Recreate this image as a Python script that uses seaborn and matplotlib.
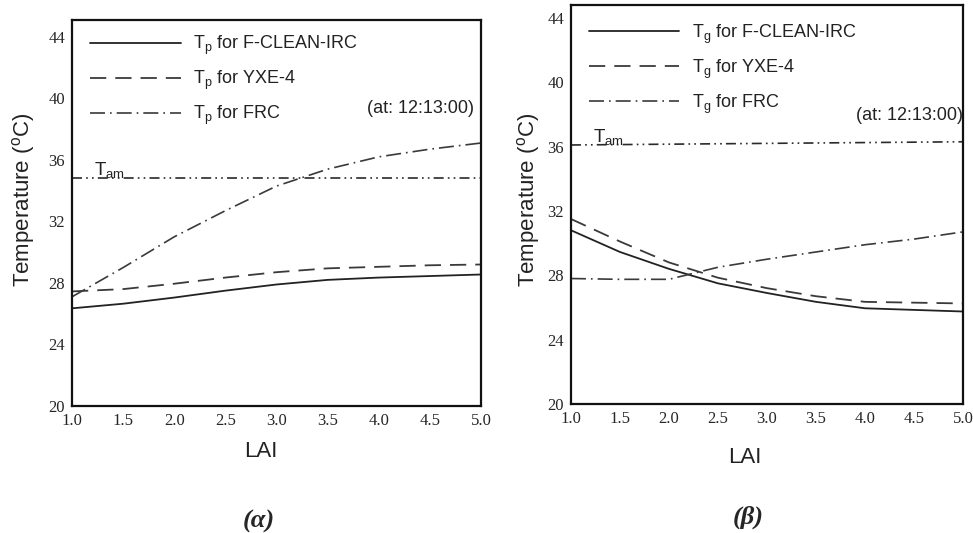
import seaborn as sns
import matplotlib.pyplot as plt

sns.set_style('white')
plt.rcParams['font.family'] = ['Liberation Sans', 'DejaVu Sans']
plt.rcParams['mathtext.default'] = 'regular'

lai = [1.0, 1.5, 2.0, 2.5, 3.0, 3.5, 4.0, 4.5, 5.0]

# (a) plant temperature Tp
tp_fclean = [26.35, 26.65, 27.05, 27.5, 27.9, 28.2, 28.35, 28.45, 28.55]
tp_yxe4 = [27.45, 27.6, 27.95, 28.35, 28.7, 28.95, 29.05, 29.15, 29.2]
tp_frc = [27.1, 29.0, 31.0, 32.7, 34.3, 35.4, 36.2, 36.7, 37.1]
tam_a = [34.8, 34.8]

# (b) ground temperature Tg
tg_fclean = [30.8, 29.45, 28.4, 27.5, 26.9, 26.35, 25.95, 25.85, 25.75]
tg_yxe4 = [31.5, 30.1, 28.8, 27.85, 27.2, 26.7, 26.35, 26.3, 26.25]
tg_frc = [27.8, 27.75, 27.75, 28.5, 29.0, 29.45, 29.9, 30.25, 30.7]
tam_b = [36.1, 36.3]

tam_x = [1.0, 5.0]
names = ['F-CLEAN-IRC', 'YXE-4', 'FRC']
xticks = [1.0, 1.5, 2.0, 2.5, 3.0, 3.5, 4.0, 4.5, 5.0]
yticks = [20, 24, 28, 32, 36, 40, 44]

dash = (9, 5)
dashdot = (9, 3, 1, 3)
dashdotdot = (6, 2.5, 1, 2.5, 1, 2.5)

fig = plt.figure(figsize=(9.73, 5.33), dpi=100)
ax1 = fig.add_axes([0.074, 0.2383, 0.4203, 0.7242])
ax2 = fig.add_axes([0.5868, 0.242, 0.4029, 0.7486])


def panel(ax, sym, solid, dashed, dd, tam, ytop, tam_y, leg_top):
    sns.lineplot(x=lai, y=solid, ax=ax, color='#222222', lw=1.3)
    sns.lineplot(x=lai, y=dashed, ax=ax, color='#3a3a3a', lw=1.3)
    sns.lineplot(x=lai, y=dd, ax=ax, color='#3a3a3a', lw=1.2)
    sns.lineplot(x=tam_x, y=tam, ax=ax, color='#2a2a2a', lw=1.2)
    lines = ax.get_lines()
    lines[1].set_dashes(dash)
    lines[2].set_dashes(dashdot)
    lines[3].set_dashes(dashdotdot)
    labels = ['T$_%s$ for %s' % (sym, n) for n in names]
    ax.legend(lines[:3], labels, loc='upper left', bbox_to_anchor=(0.045, leg_top),
              frameon=False, fontsize=13, handlelength=5.0, handletextpad=0.7,
              labelspacing=0.65, borderpad=0, borderaxespad=0, labelcolor='#222222')
    ax.text(1.22, tam_y, 'T$_{am}$', fontsize=13.5, color='#222222', va='baseline')
    ax.set_xlim(1.0, 5.0)
    ax.set_ylim(20, ytop)
    ax.set_xticks(xticks)
    ax.set_xticklabels(['%.1f' % v for v in xticks], family='Liberation Serif', fontsize=12)
    ax.set_yticks(yticks)
    ax.set_yticklabels([str(v) for v in yticks], family='Liberation Serif', fontsize=12)
    ax.tick_params(direction='in', length=3, width=1, color='#333333', pad=5)
    ax.set_xlabel('LAI', fontsize=16, color='#222222')
    ax.set_ylabel('Temperature ($^{o}$C)', fontsize=16, color='#222222')
    for s in ax.spines.values():
        s.set_color('#111111')
        s.set_linewidth(1.6)


panel(ax1, 'p', tp_fclean, tp_yxe4, tp_frc, tam_a, 45.1, 35.05, 0.963)
panel(ax2, 'g', tg_fclean, tg_yxe4, tg_frc, tam_b, 44.8, 36.3, 0.956)

ax1.text(4.93, 39.35, '(at: 12:13:00)', fontsize=13, color='#222222', ha='right', va='center')
ax2.text(5.0, 37.95, '(at: 12:13:00)', fontsize=13, color='#222222', ha='right', va='center')

ax1.xaxis.set_label_coords(0.462, -0.091)
ax2.xaxis.set_label_coords(0.444, -0.108)
ax1.yaxis.set_label_coords(-0.086, 0.534)
ax2.yaxis.set_label_coords(-0.074, 0.511)

fig.text(0.266, 0.0225, '(\u03b1)', family='Liberation Serif', style='italic',
         weight='bold', fontsize=19, ha='center', va='center')
fig.text(0.769, 0.03, '(\u03b2)', family='Liberation Serif', style='italic',
         weight='bold', fontsize=19, ha='center', va='center')

fig.savefig('out.png', dpi=100)
